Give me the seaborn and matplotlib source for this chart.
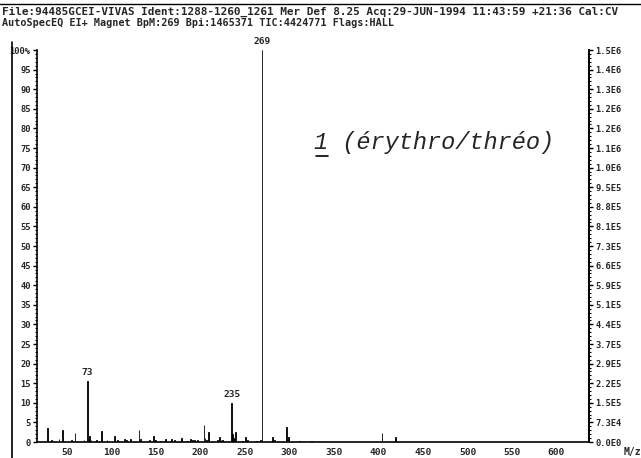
import matplotlib
matplotlib.use("Agg")
import matplotlib.pyplot as plt
from matplotlib.lines import Line2D
from matplotlib.ticker import MultipleLocator
import seaborn as sns
import pandas as pd

# ---- data (m/z, relative intensity %) ----
mz = [28, 33, 41, 45, 55, 59, 69, 73, 75, 77, 83, 89, 95, 103, 107, 115, 117,
      121, 131, 133, 143, 147, 149, 155, 161, 167, 171, 179, 185, 189, 191,
      193, 197, 204, 205, 207, 209, 219, 221, 223, 225, 235, 236, 237, 239,
      247, 251, 253, 263, 267, 269, 281, 283, 297, 299, 311, 325, 341, 404, 419]
intensity = [3.6, 0.5, 0.8, 3.0, 0.5, 2.4, 0.6, 15.6, 1.5, 0.4, 0.4, 2.7, 0.5,
             1.5, 0.4, 0.7, 0.4, 0.8, 3.0, 0.8, 0.5, 1.6, 0.5, 0.3, 0.8, 0.8,
             0.4, 1.0, 0.3, 0.8, 0.5, 0.6, 0.4, 4.3, 1.0, 0.5, 2.6, 0.4, 1.2,
             0.5, 0.4, 10.0, 2.0, 1.0, 2.6, 0.3, 1.2, 0.5, 0.3, 0.4, 100.0,
             1.3, 0.5, 3.8, 1.2, 0.3, 0.3, 0.3, 2.4, 1.2]
labelled = {269: "269", 73: "73", 235: "235"}

left_ticks = list(range(0, 101, 5))
left_labels = [str(v) for v in left_ticks[:-1]] + ["100%"]
right_labels = ["0.0E0", "7.3E4", "1.5E5", "2.2E5", "2.9E5", "3.7E5", "4.4E5",
                "5.1E5", "5.9E5", "6.6E5", "7.3E5", "8.1E5", "8.8E5", "9.5E5",
                "1.0E6", "1.1E6", "1.2E6", "1.2E6", "1.3E6", "1.4E6", "1.5E6"]
x_ticks = list(range(50, 601, 50))

header1 = "File:94485GCEI-VIVAS Ident:1288-1260_1261 Mer Def 8.25 Acq:29-JUN-1994 11:43:59 +21:36 Cal:CV"
header2 = "AutoSpecEQ EI+ Magnet BpM:269 Bpi:1465371 TIC:4424771 Flags:HALL"
title_txt = "1 (érythro/thréo)"

df = pd.DataFrame({"mz": mz, "intensity": intensity})

sns.set_style("white")
plt.rcParams["font.family"] = ["DejaVu Sans Mono"]

W, H = 641, 458
fig = plt.figure(figsize=(W / 100, H / 100), dpi=100)
ax = fig.add_axes([37 / W, 1 - 442 / H, (589 - 37) / W, (442 - 50) / H])

sns.barplot(data=df, x="mz", y="intensity", native_scale=True, width=0.9,
            color="black", edgecolor="black", linewidth=0.6, errorbar=None,
            ax=ax)

# x mapping: 50 -> 67 px, 0.89 px per unit
x0 = 50 - (67 - 37) / 0.89
x1 = 50 + (589 - 67) / 0.89
ax.set_xlim(x0, x1)
ax.set_ylim(0, 100)
ax.set_xlabel("")
ax.set_ylabel("")

ax.set_xticks(x_ticks)
ax.set_xticklabels([str(v) for v in x_ticks], fontsize=6.8, fontweight="bold")
ax.xaxis.set_minor_locator(MultipleLocator(10))
ax.set_yticks(left_ticks)
ax.set_yticklabels(left_labels, fontsize=6.3, fontweight="bold")
ax.yaxis.set_minor_locator(MultipleLocator(1))
ax.tick_params(axis="x", which="major", direction="inout", length=4, width=1.2, pad=2, color="black")
ax.tick_params(axis="x", which="minor", direction="inout", length=2.5, width=1.0, color="black")
ax.tick_params(axis="y", which="major", direction="out", length=3, width=1.0, pad=1.5, color="black")
ax.tick_params(axis="y", which="minor", direction="out", length=1.2, width=0.8, color="black")

for s in ["left", "bottom", "right"]:
    ax.spines[s].set_visible(True)
    ax.spines[s].set_color("black")
    ax.spines[s].set_linewidth(1.2)
ax.spines["top"].set_visible(False)

ax2 = ax.twinx()
ax2.set_ylim(0, 100)
ax2.set_yticks(left_ticks)
ax2.set_yticklabels(right_labels, fontsize=6.3, fontweight="bold")
ax2.yaxis.set_minor_locator(MultipleLocator(1))
ax2.tick_params(axis="y", which="major", direction="out", length=3, width=1.0, pad=1.5, color="black")
ax2.tick_params(axis="y", which="minor", direction="out", length=1.2, width=0.8, color="black")
for s in ["left", "bottom", "top"]:
    ax2.spines[s].set_visible(False)
ax2.spines["right"].set_linewidth(1.2)
ax2.spines["right"].set_color("black")
ax2.grid(False)
ax.grid(False)

# peak labels
for m, v in zip(mz, intensity):
    if m in labelled:
        ax.annotate(labelled[m], (m, v), xytext=(0, 3), textcoords="offset points",
                    ha="center", va="bottom", fontsize=6.8, fontweight="bold",
                    annotation_clip=False)

# header
fig.text(2 / W, 1 - 12 / H, header1, fontsize=7.9, fontweight="bold", va="center", ha="left")
fig.text(2 / W, 1 - 23 / H, header2, fontsize=7.3, fontweight="bold", va="center", ha="left")
fig.add_artist(Line2D([0, 1], [1 - 4 / H, 1 - 4 / H], color="black", lw=1.0))
fig.add_artist(Line2D([11.5 / W, 11.5 / W], [0, 1 - 42 / H], color="black", lw=1.2))

# compound annotation
fig.text(314 / W, 1 - 143 / H, title_txt, fontsize=17, style="italic",
         family=["Liberation Mono", "DejaVu Sans Mono"], va="center", ha="left")
fig.add_artist(Line2D([316 / W, 328 / W], [1 - 156 / H, 1 - 156 / H], color="black", lw=1.2))

fig.text(624 / W, 1 - 452 / H, "M/z", fontsize=7, fontweight="bold", va="center", ha="left")

fig.savefig("out.png", dpi=100, facecolor="white")
